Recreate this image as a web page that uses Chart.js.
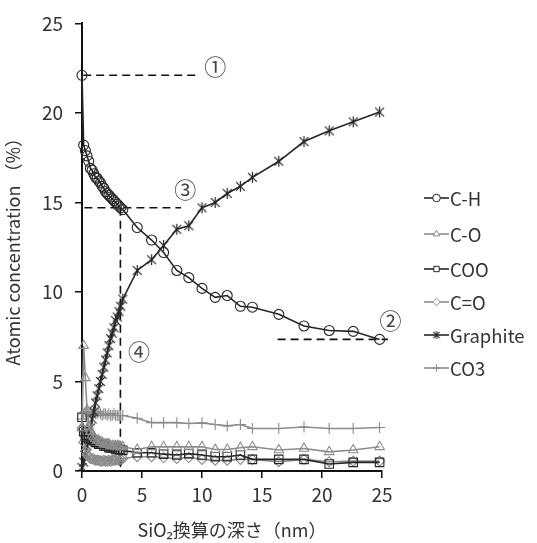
<!DOCTYPE html>
<html><head><meta charset="utf-8">
<script src="https://cdn.jsdelivr.net/npm/chart.js@4.4.0/dist/chart.umd.min.js"></script>
<style>html,body{margin:0;padding:0;background:#fff;}#wrap{width:537px;height:543px;}</style>
</head><body><div id="wrap"><canvas id="c" width="537" height="543"></canvas></div>
<script>
// depth (nm, SiO2 equivalent)
const depth = [0, 0.14, 0.28, 0.42, 0.56, 0.70, 0.84, 0.98, 1.12, 1.26, 1.40, 1.54, 1.68, 1.82, 1.96, 2.10, 2.24, 2.38, 2.52, 2.66, 2.80, 2.94, 3.08, 3.22,
  3.4, 4.6, 5.8, 6.8, 7.9, 8.9, 10.0, 11.1, 12.1, 13.2, 14.2, 16.4, 18.5, 20.6, 22.6, 24.8];
const chValues = [22.1, 18.2, 17.9, 17.6, 17.3, 16.9, 16.8, 16.6, 16.4, 16.35, 16.2, 16.1, 15.9, 15.8, 15.6, 15.5, 15.4, 15.3, 15.2, 15.1, 15.0, 14.9, 14.8, 14.7,
  14.6, 13.6, 12.9, 12.2, 11.2, 10.8, 10.2, 9.7, 9.8, 9.2, 9.15, 8.75, 8.1, 7.85, 7.8, 7.35];
const coValues = [2.4, 7.0, 5.2, 3.4, 2.5, 2.2, 2.0, 1.9, 1.8, 1.7, 1.7, 1.6, 1.6, 1.5, 1.5, 1.5, 1.5, 1.4, 1.4, 1.4, 1.4, 1.4, 1.4, 1.35,
  1.35, 1.2, 1.35, 1.35, 1.35, 1.35, 1.35, 1.2, 1.2, 1.3, 1.35, 1.17, 1.26, 1.07, 1.17, 1.35];
const cooValues = [3.0, 2.2, 2.0, 1.9, 1.8, 1.8, 1.7, 1.7, 1.6, 1.6, 1.5, 1.5, 1.5, 1.4, 1.4, 1.4, 1.3, 1.3, 1.3, 1.3, 1.2, 1.2, 1.2, 1.2,
  1.15, 1.02, 1.02, 0.94, 0.89, 0.97, 0.89, 0.8, 0.8, 0.89, 0.65, 0.65, 0.65, 0.39, 0.48, 0.48];
const cdoValues = [2.4, 1.6, 1.1, 0.9, 0.8, 0.7, 0.7, 0.65, 0.6, 0.6, 0.6, 0.55, 0.55, 0.6, 0.55, 0.55, 0.6, 0.55, 0.6, 0.6, 0.6, 0.65, 0.6, 0.65,
  0.7, 0.8, 0.8, 0.75, 0.7, 0.75, 0.65, 0.6, 0.6, 0.65, 0.65, 0.52, 0.65, 0.52, 0.55, 0.55];
const graphiteValues = [0.2, 0.5, 0.9, 1.4, 1.9, 2.4, 2.9, 3.3, 3.8, 4.2, 4.6, 5.0, 5.4, 5.8, 6.2, 6.6, 7.0, 7.4, 7.7, 8.0, 8.4, 8.6, 8.9, 9.2,
  9.6, 11.2, 11.8, 12.6, 13.5, 13.7, 14.7, 15.0, 15.5, 15.9, 16.4, 17.3, 18.4, 19.0, 19.5, 20.05];
const co3Values = [2.9, 3.2, 3.3, 3.3, 3.2, 3.3, 3.2, 3.3, 3.2, 3.2, 3.3, 3.2, 3.1, 3.2, 3.2, 3.1, 3.2, 3.1, 3.1, 3.2, 3.1, 3.1, 3.1, 3.1,
  3.1, 2.95, 2.7, 2.7, 2.7, 2.65, 2.69, 2.6, 2.52, 2.6, 2.37, 2.37, 2.46, 2.37, 2.37, 2.43];
const seriesNames = ['C-H', 'C-O', 'COO', 'C=O', 'Graphite', 'CO3'];
const xTicks = [0, 5, 10, 15, 20, 25];
const yTicks = [0, 5, 10, 15, 20, 25];
// reference annotations (data coordinates)
const hLines = [ {x1: 0.1, x2: 9.75, y: 22.1}, {x1: 0.2, x2: 8.25, y: 14.7}, {x1: 16.3, x2: 25.5, y: 7.35} ];
const vLine = {x: 3.2, y1: 14.7, y2: 0.25};
const markLabels = [ {t: '①', x: 11.1, y: 22.6}, {t: '③', x: 8.6, y: 15.7}, {t: '②', x: 25.7, y: 8.4}, {t: '④', x: 4.75, y: 6.67} ];

const FONT = '"Noto Sans CJK JP", "Noto Sans", sans-serif';
const BLACK = '#262626';
const GRAY = '#8c8c8c';

function asterisk(size, color, lw) {
  const c = document.createElement('canvas');
  c.width = size; c.height = size;
  const g = c.getContext('2d');
  g.strokeStyle = color; g.lineWidth = lw;
  const m = size / 2, r = size / 2 - 1;
  g.beginPath();
  g.moveTo(m, m - r); g.lineTo(m, m + r);
  const d = r * 0.8;
  g.moveTo(m - d, m - d); g.lineTo(m + d, m + d);
  g.moveTo(m + d, m - d); g.lineTo(m - d, m + d);
  g.stroke();
  return c;
}
const starBig = asterisk(13, BLACK, 1.2);
const starSmall = asterisk(10, BLACK, 1.1);

const styles = [
  {color: BLACK, ps: 'circle', r: 5},
  {color: GRAY, ps: 'triangle', r: 5.5},
  {color: BLACK, ps: 'rect', r: 6},
  {color: GRAY, ps: 'rectRot', r: 5},
  {color: BLACK, ps: starBig, r: 6},
  {color: GRAY, ps: 'cross', r: 5.5}
];
const valueSets = [chValues, coValues, cooValues, cdoValues, graphiteValues, co3Values];

const datasets = seriesNames.map((name, i) => ({
  label: name,
  data: depth.map((d, k) => ({x: d, y: valueSets[i][k]})),
  borderColor: styles[i].color,
  borderWidth: 1.6,
  pointStyle: styles[i].ps,
  pointRadius: styles[i].r,
  pointBorderColor: styles[i].color,
  pointBackgroundColor: 'rgba(0,0,0,0)',
  pointBorderWidth: 1.1,
  tension: 0,
  clip: false
}));

const annoPlugin = {
  id: 'anno',
  beforeDatasetsDraw(chart) {
    const {ctx, scales: {x, y}} = chart;
    ctx.save();
    ctx.strokeStyle = '#111';
    ctx.lineWidth = 1.6;
    ctx.setLineDash([8, 5]);
    hLines.forEach(l => {
      ctx.beginPath();
      ctx.moveTo(x.getPixelForValue(l.x1), y.getPixelForValue(l.y));
      ctx.lineTo(x.getPixelForValue(l.x2), y.getPixelForValue(l.y));
      ctx.stroke();
    });
    const vx = x.getPixelForValue(vLine.x);
    const vy2 = y.getPixelForValue(vLine.y2);
    ctx.beginPath();
    ctx.moveTo(vx, y.getPixelForValue(vLine.y1));
    ctx.lineTo(vx, vy2 - 5);
    ctx.stroke();
    ctx.setLineDash([]);
    ctx.fillStyle = '#111';
    ctx.beginPath();
    ctx.moveTo(vx - 4, vy2 - 6);
    ctx.lineTo(vx + 4, vy2 - 6);
    ctx.lineTo(vx, vy2 + 1);
    ctx.closePath();
    ctx.fill();
    ctx.font = '22px ' + FONT;
    ctx.fillStyle = '#444';
    ctx.textAlign = 'center';
    ctx.textBaseline = 'middle';
    markLabels.forEach(m => ctx.fillText(m.t, x.getPixelForValue(m.x), y.getPixelForValue(m.y)));
    ctx.restore();
  },
  afterDraw(chart) {
    const ctx = chart.ctx;
    const ys = [198, 234, 269, 302, 335, 368];
    ctx.save();
    chart.data.datasets.forEach((ds, i) => {
      const yy = ys[i];
      ctx.strokeStyle = ds.borderColor;
      ctx.lineWidth = 1.6;
      ctx.setLineDash([]);
      ctx.beginPath();
      ctx.moveTo(424, yy); ctx.lineTo(449, yy);
      ctx.stroke();
      const ps = (i === 4) ? starSmall : ds.pointStyle;
      ctx.strokeStyle = ds.borderColor;
      ctx.lineWidth = 1;
      ctx.fillStyle = '#fff';
      Chart.helpers.drawPoint(ctx, {pointStyle: ps, rotation: 0, radius: 3.8, borderWidth: 1}, 436.5, yy);
      ctx.font = '18.5px ' + FONT;
      ctx.fillStyle = '#333';
      ctx.textAlign = 'left';
      ctx.textBaseline = 'middle';
      ctx.fillText(ds.label, 450, yy + 1);
    });
    ctx.restore();
  }
};

new Chart(document.getElementById('c'), {
  type: 'line',
  data: {datasets},
  plugins: [annoPlugin],
  options: {
    responsive: false,
    devicePixelRatio: 1,
    animation: false,
    layout: {padding: {left: 0, right: 155, top: 22, bottom: 0}},
    plugins: {legend: {display: false}, tooltip: {enabled: false}},
    scales: {
      x: {
        type: 'linear', min: 0, max: 25,
        afterBuildTicks: s => { s.ticks = xTicks.map(v => ({value: v})); },
        afterFit: s => { s.height = 72; },
        grid: {drawOnChartArea: false, drawTicks: true, tickLength: 7, color: '#111', lineWidth: 1.5},
        border: {display: true, color: '#111', width: 2},
        ticks: {font: {size: 19, family: FONT}, color: '#333', padding: 5, maxRotation: 0},
        title: {display: true, text: 'SiO₂換算の深さ（nm）', font: {size: 18, family: FONT}, color: '#333', padding: {top: 4, bottom: 2}}
      },
      y: {
        type: 'linear', min: 0, max: 25,
        afterBuildTicks: s => { s.ticks = yTicks.map(v => ({value: v})); },
        afterFit: s => { s.width = 82; },
        grid: {drawOnChartArea: false, drawTicks: true, tickLength: 7, color: '#111', lineWidth: 1.5},
        border: {display: true, color: '#111', width: 2},
        ticks: {font: {size: 19, family: FONT}, color: '#333', padding: 12},
        title: {display: true, text: 'Atomic concentration （%）', font: {size: 18, family: FONT}, color: '#333', padding: {top: 2, bottom: 2}}
      }
    }
  }
});
</script>
</body></html>
